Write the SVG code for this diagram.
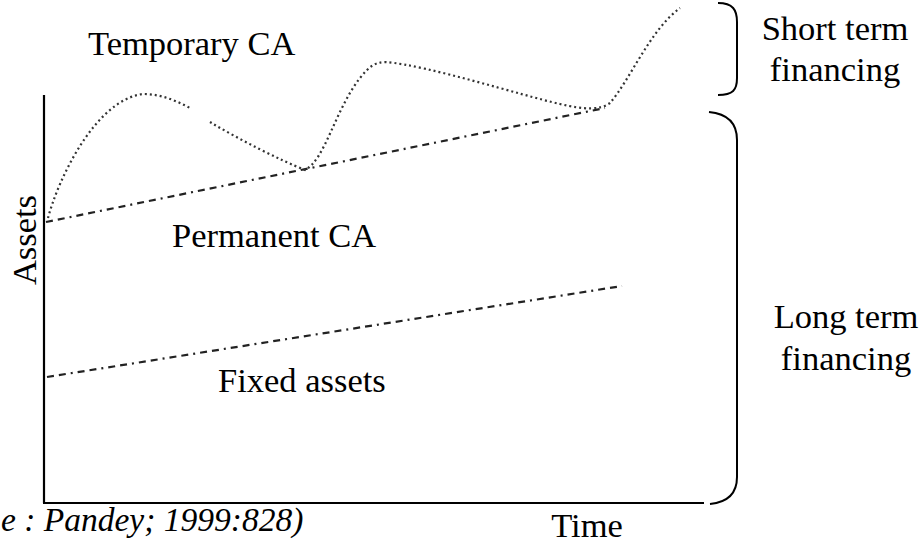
<svg xmlns="http://www.w3.org/2000/svg" width="924" height="544" viewBox="0 0 924 544">
<style>
.t{font-family:"Liberation Serif","Times New Roman",serif;font-size:34.5px;fill:#000}
.ax{stroke:#000;stroke-width:2.2;fill:none}
.br{stroke:#000;stroke-width:2;fill:none}
.dash{stroke:#222;stroke-width:2.2;fill:none;stroke-dasharray:7 5 7 5 2 5}
.dot{stroke:#333;stroke-width:2.2;fill:none;stroke-dasharray:2 3}
</style>
<rect width="924" height="544" fill="#fff"/>
<g id="axes">
<line class="ax" x1="44" y1="95" x2="44" y2="503"/>
<line class="ax" x1="43" y1="503" x2="704" y2="503"/>
</g>
<g id="connectors">
<path class="dash" d="M46,222 L605,108"/>
<path class="dash" d="M47,377 L622,286"/>
<path class="dot" d="M48,218 C58,180 95,100 143,94 C160,94 175,100 190,108"/>
<path class="dot" d="M210,122 C240,140 280,160 305,170 C325,160 335,110 360,78 C368,68 374,62 386,62 C430,66 520,95 560,104 C585,110 600,110 610,103 C630,80 650,30 680,8"/>
</g>
<g id="brace-short">
<path class="br" d="M718,3 C733,3 737,10 737,22 L737,78 C737,90 733,95 718,95"/>
</g>
<g id="brace-long">
<path class="br" d="M709,112 C730,114 737,125 737,140 L737,477 C737,492 730,502 710,504"/>
</g>
<g id="temporary-ca"><text class="t" x="88" y="55">Temporary CA</text></g>
<g id="permanent-ca"><text class="t" x="172" y="247">Permanent CA</text></g>
<g id="fixed-assets"><text class="t" x="218" y="392">Fixed assets</text></g>
<g id="short-term"><text class="t" x="835" y="40" text-anchor="middle">Short term</text><text class="t" x="835" y="81" text-anchor="middle">financing</text></g>
<g id="long-term"><text class="t" x="846" y="328" text-anchor="middle">Long term</text><text class="t" x="846" y="370" text-anchor="middle">financing</text></g>
<g id="assets-label"><text class="t" transform="translate(36,240) rotate(-90)" text-anchor="middle">Assets</text></g>
<g id="time-label"><text class="t" x="587" y="537" text-anchor="middle">Time</text></g>
<g id="source"><text class="t" x="1" y="531" font-style="italic" style="font-size:33.5px">e : Pandey; 1999:828)</text></g>
</svg>
